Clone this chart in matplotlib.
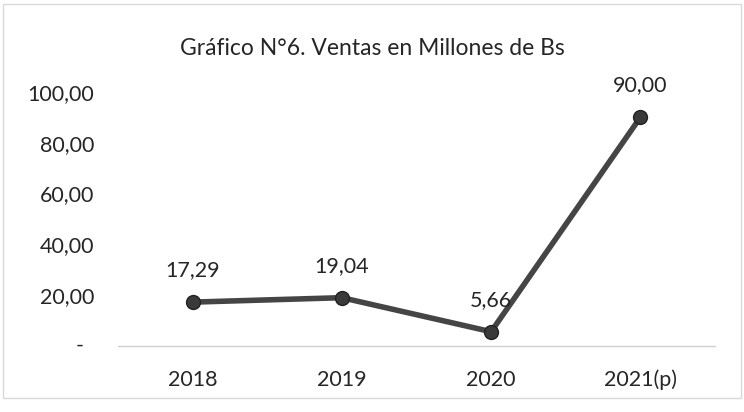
import matplotlib.pyplot as plt
from matplotlib.patches import Rectangle

years = ['2018', '2019', '2020', '2021(p)']
ventas = [17.29, 19.04, 5.66, 90.00]
y_ticks = [0, 20, 40, 60, 80, 100]
y_labels = ['', '20,00', '40,00', '60,00', '80,00', '100,00']

plt.rcParams['font.family'] = ['Lato', 'DejaVu Sans']

fig = plt.figure(figsize=(7.44, 4.12), dpi=100)
ax = fig.add_axes([0.1586, 0.160, 0.8024, 0.617])

x = range(len(years))
ax.plot(x, ventas, color='#454545', lw=4, marker='o', ms=10,
        mfc='#3a3a3a', mec='#222222', mew=1, clip_on=False, zorder=3)

for xi, v in zip(x, ventas):
    lab = f'{v:.2f}'.replace('.', ',')
    ax.annotate(lab, (xi, v), xytext=(0, 23), textcoords='offset points',
                ha='center', va='center', fontsize=15.5, color='#262626')

ax.set_xlim(-0.5, len(years) - 0.5)
ax.set_ylim(0, 100)
ax.set_xticks(list(x))
ax.set_xticklabels(years)
ax.set_yticks(y_ticks)
ax.set_yticklabels(y_labels)
ax.tick_params(axis='both', length=0, labelsize=15.5, colors='#262626')
ax.tick_params(axis='x', pad=17)
ax.tick_params(axis='y', pad=17)

# Excel accounting format shows zero as a dash, set in from the right edge
ax.text(-0.064, 0, '-', transform=ax.get_yaxis_transform(), ha='center', va='center',
        fontsize=15.5, color='#262626')

for s in ['top', 'right', 'left']:
    ax.spines[s].set_visible(False)
ax.spines['bottom'].set_color('#d0d0d0')
ax.spines['bottom'].set_linewidth(1)

fig.text(0.5, 0.883, 'Gráfico N°6. Ventas en Millones de Bs',
         ha='center', va='center', fontsize=16.5, color='#262626')

fig.patches.append(Rectangle((0.004, 0.035), 0.992, 0.955, transform=fig.transFigure,
                             fill=False, edgecolor='#d9d9d9', lw=1))

fig.savefig('out.png', dpi=100)
